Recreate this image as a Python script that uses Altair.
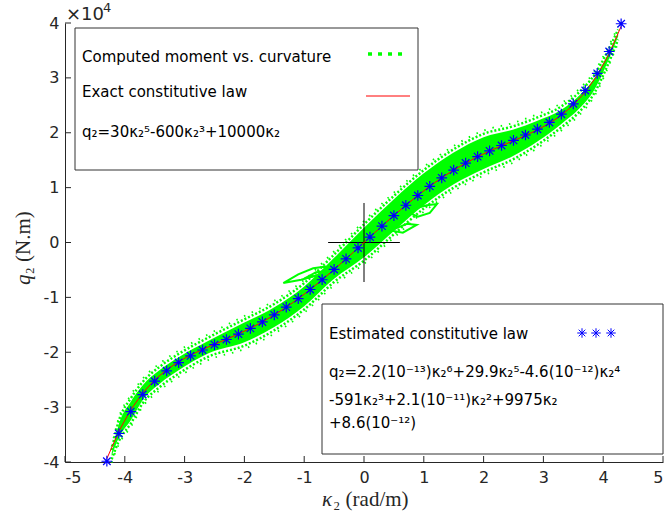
import altair as alt
import pandas as pd

# Curvature samples (rad/m) at which both constitutive laws are shown
kappa = [-4.3, -4.1, -3.9, -3.7, -3.5, -3.3, -3.1, -2.9, -2.7, -2.5, -2.3,
         -2.1, -1.9, -1.7, -1.5, -1.3, -1.1, -0.9, -0.7, -0.5, -0.3, -0.1,
         0.1, 0.3, 0.5, 0.7, 0.9, 1.1, 1.3, 1.5, 1.7, 1.9, 2.1, 2.3, 2.5,
         2.7, 2.9, 3.1, 3.3, 3.5, 3.7, 3.9, 4.1, 4.3]

# Exact law q2 = 30k^5 - 600k^3 + 10000k  (N.m)
q_exact = [-39398.33, -34404.26, -30475.86, -27411.39, -25031.56, -23178.42,
           -21714.15, -20519.94, -19494.87, -18554.69, -17630.70, -16668.63,
           -15627.43, -14478.16, -13202.81, -11793.19, -10249.72, -8580.31,
           -6799.24, -4925.94, -2983.87, -999.40,
           999.40, 2983.87, 4925.94, 6799.24, 8580.31, 10249.72, 11793.19,
           13202.81, 14478.16, 15627.43, 16668.63, 17630.70, 18554.69,
           19494.87, 20519.94, 21714.15, 23178.42, 25031.56, 27411.39,
           30475.86, 34404.26, 39398.33]

# Estimated (fitted) law  (N.m)
q_est = [-39859.39, -34806.19, -30822.01, -27705.42, -25277.42, -23380.22,
         -21876.14, -20646.44, -19590.17, -18623.05, -17676.27, -16695.40,
         -15639.19, -14478.45, -13194.93, -11780.09, -10234.03, -8564.32,
         -6784.81, -4914.56, -2976.62, -996.91,
         996.91, 2976.62, 4914.56, 6784.81, 8564.32, 10234.03, 11780.09,
         13194.93, 14478.45, 15639.19, 16695.40, 17676.27, 18623.05,
         19590.17, 20646.44, 21876.14, 23380.22, 25277.42, 27705.42,
         30822.01, 34806.19, 39859.39]

# Dense core of the computed moment/curvature samples (units of 1e4 N.m)
band_kappa = [-4.22, -4.1, -3.9, -3.7, -3.4, -3.1, -2.6, -2.0, -1.5, -1.0,
              -0.5, 0.0, 0.5, 1.0, 1.5, 2.0, 2.5, 2.9, 3.3, 3.6, 3.85, 4.05,
              4.25]
band_hi = [-3.84, -3.31, -2.90, -2.60, -2.31, -2.09, -1.79, -1.46, -1.18,
           -0.80, -0.28, 0.27, 0.79, 1.26, 1.64, 1.92, 2.06, 2.22, 2.42, 2.68,
           2.99, 3.37, 3.82]
band_lo = [-3.89, -3.56, -3.24, -2.87, -2.56, -2.33, -2.02, -1.82, -1.54,
           -1.16, -0.66, -0.27, 0.21, 0.68, 1.06, 1.34, 1.58, 1.84, 2.16, 2.44,
           2.78, 3.23, 3.76]

# Stray hysteresis loops of the computed samples near the origin
loop_id = ["a"] * 8 + ["b"] * 5 + ["c"] * 7 + ["d"] * 5
loop_kappa = [-1.35, -1.1, -0.85, -0.65, -0.62, -0.8, -1.05, -1.35,
              -1.0, -0.8, -0.68, -0.75, -1.0,
              0.72, 0.9, 1.1, 1.22, 1.05, 0.85, 0.72,
              0.45, 0.65, 0.88, 0.72, 0.45]
loop_q = [-0.74, -0.58, -0.47, -0.44, -0.52, -0.60, -0.68, -0.74,
          -0.66, -0.54, -0.53, -0.59, -0.66,
          0.56, 0.47, 0.54, 0.70, 0.68, 0.62, 0.56,
          0.22, 0.18, 0.32, 0.34, 0.22]

x_ticks = [-5, -4, -3, -2, -1, 0, 1, 2, 3, 4, 5]
y_ticks = [-4, -3, -2, -1, 0, 1, 2, 3, 4]

W, H = 598, 439
GREEN = "#00ff00"
AXIS = "#262626"
SERIF = "Liberation Serif"
STAR = "M-1,0L1,0M0,-1L0,1M-0.7,-0.7L0.7,0.7M-0.7,0.7L0.7,-0.7"

curves = pd.DataFrame({
    "kappa": kappa,
    "exact": [v / 1e4 for v in q_exact],
    "est": [v / 1e4 for v in q_est],
})
band = pd.DataFrame({"kappa": band_kappa, "hi": band_hi, "lo": band_lo})
loops = pd.DataFrame({"id": loop_id, "kappa": loop_kappa, "q": loop_q,
                      "o": list(range(len(loop_id)))})

xs = alt.Scale(domain=[-5, 5], nice=False, zero=False)
ys = alt.Scale(domain=[-4, 4], nice=False, zero=False)
neg_fmt = "datum.value < 0 ? '-' + (-datum.value) : '' + datum.value"

band_layer = alt.Chart(band).mark_area(color=GREEN, opacity=1,
                                        interpolate="monotone").encode(
    x=alt.X("kappa:Q", scale=xs, axis=alt.Axis(
        values=x_ticks, ticks=False, labelExpr=neg_fmt, labelPadding=7,
        title="")),
    y=alt.Y("lo:Q", scale=ys, axis=alt.Axis(
        values=y_ticks, ticks=False, labelExpr=neg_fmt, labelPadding=6,
        title="")),
    y2="hi:Q",
)

# speckled fringes along both edges of the sample cloud
fringe = alt.Chart(band).transform_calculate(
    up="datum.hi + 0.06", dn="datum.lo - 0.06",
    up2="datum.hi + 0.12", dn2="datum.lo - 0.12",
).transform_fold(["up", "dn", "up2", "dn2"], as_=["edge", "q"])
fringe_layer = fringe.mark_line(
    color=GREEN, interpolate="monotone").encode(
    x=alt.X("kappa:Q", scale=xs), y=alt.Y("q:Q", scale=ys),
    detail="edge:N",
    strokeWidth=alt.condition("datum.edge == 'up' || datum.edge == 'dn'",
                              alt.value(2.5), alt.value(1.8)),
    strokeDash=alt.condition("datum.edge == 'up' || datum.edge == 'dn'",
                             alt.value([2, 2]), alt.value([1.5, 7])))

loop_layer = alt.Chart(loops).mark_line(
    color=GREEN, strokeWidth=2, interpolate="linear").encode(
    x=alt.X("kappa:Q", scale=xs), y=alt.Y("q:Q", scale=ys),
    detail="id:N", order="o:Q")

cross = pd.DataFrame({"x": [-0.6, 0.0], "x2": [0.6, 0.0],
                      "y": [0.0, -0.72], "y2": [0.0, 0.72]})
cross_layer = alt.Chart(cross).mark_rule(color="black", strokeWidth=1).encode(
    x=alt.X("x:Q", scale=xs), x2="x2:Q",
    y=alt.Y("y:Q", scale=ys), y2="y2:Q")

exact_layer = alt.Chart(curves).mark_line(color="red", strokeWidth=1).encode(
    x=alt.X("kappa:Q", scale=xs), y=alt.Y("exact:Q", scale=ys))

est_layer = alt.Chart(curves).mark_point(
    shape=STAR, filled=False, color="blue", size=115, strokeWidth=1.2,
    opacity=1).encode(
    x=alt.X("kappa:Q", scale=xs), y=alt.Y("est:Q", scale=ys))

# inward tick marks
xt = alt.Chart(pd.DataFrame({"t": x_ticks})).mark_rule(
    color=AXIS, strokeWidth=1).encode(
    x=alt.X("t:Q", scale=xs), y=alt.value(H), y2=alt.value(H - 6))
yt = alt.Chart(pd.DataFrame({"t": y_ticks})).mark_rule(
    color=AXIS, strokeWidth=1).encode(
    y=alt.Y("t:Q", scale=ys), x=alt.value(0), x2=alt.value(6))

# axis titles: italic symbol followed by the upright remainder
def title_part(text, x, y, style, angle):
    return alt.Chart(pd.DataFrame({"t": [text], "x": [x], "y": [y]})).mark_text(
        align="left", baseline="middle", font=SERIF, fontSize=21,
        fontStyle=style, angle=angle, color=AXIS).encode(
        x=alt.X("x:Q", scale=None), y=alt.Y("y:Q", scale=None), text="t:N")

xtitle_sym = title_part("κ", 257, 477, "italic", 0)
xtitle_rest = title_part("₂ (rad/m)", 268, 477, "normal", 0)
ytitle_sym = title_part("q", -41, 262, "italic", 270)
ytitle_rest = title_part("₂ (N.m)", -41, 251.5, "normal", 270)

# legend boxes
boxes = pd.DataFrame({"x": [10, 257], "x2": [353, 598],
                      "y": [5, 281], "y2": [147, 431]})
box_layer = alt.Chart(boxes).mark_rect(
    fill="white", stroke="#333333", strokeWidth=1).encode(
    x=alt.X("x:Q", scale=None), x2="x2:Q",
    y=alt.Y("y:Q", scale=None), y2="y2:Q")

texts = pd.DataFrame({
    "t": ["Computed moment vs. curvature", "Exact constitutive law",
          "q₂=30κ₂⁵-600κ₂³+10000κ₂",
          "Estimated constitutive law",
          "q₂=2.2(10⁻¹³)κ₂⁶+29.9κ₂⁵-4.6(10⁻¹²)κ₂⁴",
          "-591κ₂³+2.1(10⁻¹¹)κ₂²+9975κ₂",
          "+8.6(10⁻¹²)"],
    "px": [17, 17, 17, 264, 264, 264, 264],
    "py": [34, 69, 109, 311, 349, 377, 400],
})
text_layer = alt.Chart(texts).mark_text(
    align="left", baseline="middle", font="DejaVu Sans", fontSize=15,
    color="black").encode(
    x=alt.X("px:Q", scale=None), y=alt.Y("py:Q", scale=None), text="t:N")

green_key = alt.Chart(pd.DataFrame({"a": [303], "b": [337], "y": [31]})).mark_rule(
    color=GREEN, strokeWidth=3.5, strokeDash=[4, 6]).encode(
    x=alt.X("a:Q", scale=None), x2="b:Q", y=alt.Y("y:Q", scale=None))
red_key = alt.Chart(pd.DataFrame({"a": [301], "b": [345], "y": [73]})).mark_rule(
    color="red", strokeWidth=1).encode(
    x=alt.X("a:Q", scale=None), x2="b:Q", y=alt.Y("y:Q", scale=None))
star_key = alt.Chart(pd.DataFrame({"x": [517, 531, 546], "y": [310, 310, 310]})).mark_point(
    shape=STAR, filled=False, color="blue", size=90, strokeWidth=1,
    opacity=1).encode(
    x=alt.X("x:Q", scale=None), y=alt.Y("y:Q", scale=None))

# axis multiplier above the y axis
expo = alt.Chart(pd.DataFrame({
    "t": ["×10", "4"], "x": [1, 38], "y": [-3, -11], "s": [18, 13]
})).mark_text(
    align="left", baseline="alphabetic", font="DejaVu Sans",
    color=AXIS).encode(
    x=alt.X("x:Q", scale=None), y=alt.Y("y:Q", scale=None), text="t:N",
    size=alt.Size("s:Q", scale=None, legend=None))

chart = alt.layer(
    band_layer, fringe_layer, loop_layer, cross_layer, exact_layer,
    est_layer, xt, yt, xtitle_sym, xtitle_rest, ytitle_sym, ytitle_rest,
    box_layer, text_layer, green_key, red_key, star_key, expo,
).properties(
    width=W, height=H,
    autosize=alt.AutoSizeParams(type="none"),
    padding={"left": 65, "top": 23, "right": 4, "bottom": 60},
).configure_view(stroke=None).configure_axis(
    grid=False, domainColor=AXIS, domainWidth=1, labelColor=AXIS,
    titleColor=AXIS, labelFont="DejaVu Sans", labelFontSize=16,
)

chart.save("out.html", embed_options={"renderer": "svg", "actions": False})
